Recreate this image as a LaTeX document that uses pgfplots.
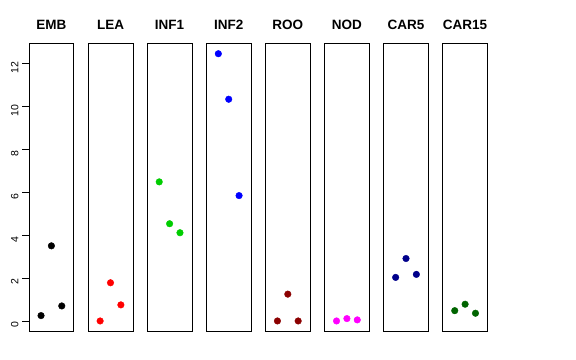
\documentclass[border=0pt]{standalone}
\usepackage{pgfplots}
\pgfplotsset{compat=1.18}
\usepackage{fontspec}
\setmainfont{Liberation Sans}
\definecolor{cgreen}{RGB}{0,205,0}
\definecolor{cdarkred}{RGB}{139,0,0}
\definecolor{cnavy}{RGB}{0,0,139}
\definecolor{cdarkgreen}{RGB}{0,100,0}
\definecolor{cmagenta}{RGB}{255,0,255}
\definecolor{cblue}{RGB}{0,0,255}
\definecolor{cred}{RGB}{255,0,0}
\pgfplotsset{
  panel/.style={
    anchor=south west, scale only axis, width=44.8bp, height=288.7bp,
    xmin=-0.16, xmax=4.16, ymin=-0.5, ymax=12.95,
    xtick=\empty, ytick=\empty, clip=false,
    axis line style={black, line width=0.8bp},
    title style={at={(0.5,1)}, anchor=base, yshift=8bp, font=\fontsize{13.5bp}{16bp}\selectfont\bfseries},
  }
}
\newcommand{\panel}[4]{%
\begin{axis}[panel, at={(#1bp,28.3bp)}, title={#2}]
\addplot[only marks, mark=*, mark size=3.3bp, color=#3, mark options={draw=#3, fill=#3}] coordinates {#4};
\end{axis}}
\begin{document}
\begin{tikzpicture}
\path[use as bounding box] (0,0) rectangle (576bp,360bp);
\begin{axis}[panel, at={(29bp,28.3bp)}, title={EMB},
  ytick={0,2,4,6,8,10,12}, ytick pos=left, tick align=outside, major tick length=7bp,
  ytick style={black, line width=0.8bp},
  /pgf/number format/assume math mode=true,
  yticklabel style={rotate=90, anchor=south, font=\fontsize{10.5bp}{12bp}\selectfont, xshift=-4bp}]
\addplot[only marks, mark=*, mark size=3.3bp, color=black] coordinates {(1,0.25) (2,3.5) (3,0.70)};
\end{axis}
\panel{88.1}{LEA}{cred}{(1,0.0) (2,1.78) (3,0.75)}
\panel{147.2}{INF1}{cgreen}{(1,6.48) (2,4.53) (3,4.11)}
\panel{206.3}{INF2}{cblue}{(1,12.45) (2,10.33) (3,5.84)}
\panel{265.4}{ROO}{cdarkred}{(1,0.0) (2,1.25) (3,0.0)}
\panel{324.5}{NOD}{cmagenta}{(1,0.0) (2,0.11) (3,0.05)}
\panel{383.6}{CAR5}{cnavy}{(1,2.03) (2,2.91) (3,2.17)}
\panel{442.7}{CAR15}{cdarkgreen}{(1,0.48) (2,0.78) (3,0.36)}
\end{tikzpicture}
\end{document}
